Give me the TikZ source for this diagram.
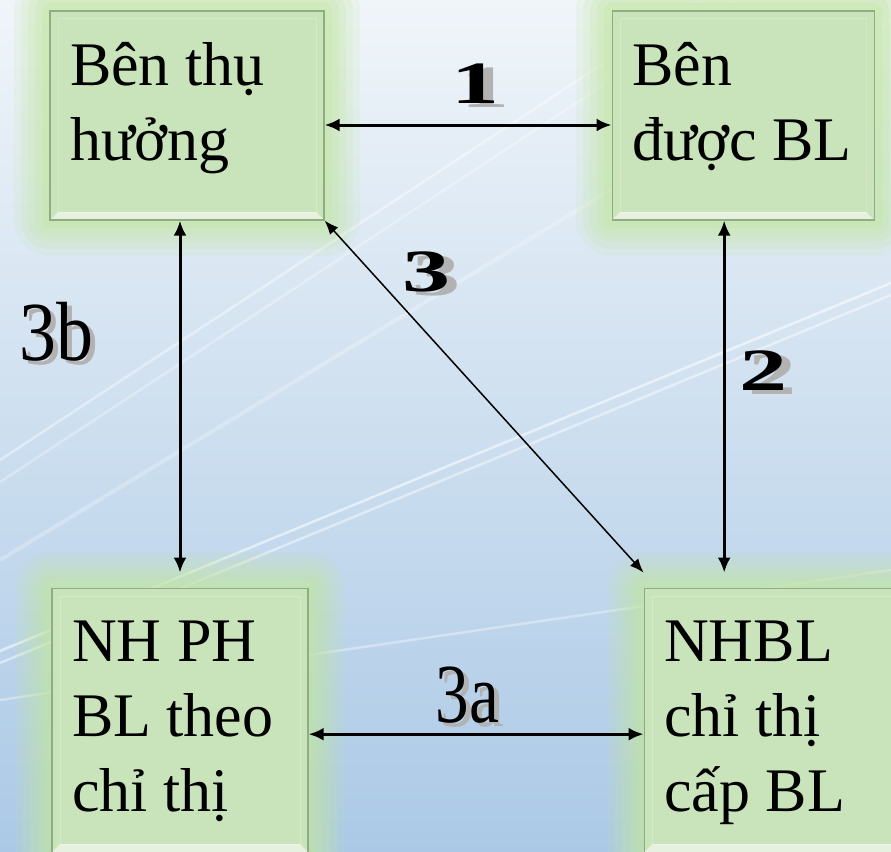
\documentclass[tikz,border=0pt]{standalone}
\usepackage{fontspec}
\setmainfont{Liberation Serif}
\usetikzlibrary{arrows.meta,calc,positioning}

\definecolor{boxgreen}{HTML}{C9E4BA}
\definecolor{boxedge}{HTML}{8FAD80}
\definecolor{glowgreen}{HTML}{C2E6A0}
\definecolor{skytop}{HTML}{F0F5F9}
\definecolor{skybottom}{HTML}{ABC9E6}

\newcommand{\shadowed}[1]{\rlap{\hspace{6pt}\raisebox{-4pt}[0pt][0pt]{\textcolor{black!30}{#1}}}#1}

\begin{document}
\begin{tikzpicture}[x=1pt,y=-1pt,node distance=287pt,>={Latex[length=15pt,width=13pt]}]
  \tikzstyle{party}=[draw=boxedge,line width=1.2pt,fill=boxgreen,align=flush left,
    inner xsep=20pt,font=\fontsize{62}{75}\selectfont,
    preaction={draw=glowgreen,line width=72pt,line join=round,opacity=.14},
    preaction={draw=glowgreen,line width=58pt,line join=round,opacity=.17},
    preaction={draw=glowgreen,line width=44pt,line join=round,opacity=.2},
    preaction={draw=glowgreen,line width=30pt,line join=round,opacity=.24},
    preaction={draw=glowgreen,line width=16pt,line join=round,opacity=.3},
    path picture={
      \fill[white,opacity=.55] (path picture bounding box.south west)
        -- (path picture bounding box.south east)
        -- ([shift={(-8pt,8pt)}]path picture bounding box.south east)
        -- ([shift={(8pt,8pt)}]path picture bounding box.south west) -- cycle;
      \draw[white,opacity=.2,line width=1pt]
        ([shift={(8pt,8pt)}]path picture bounding box.south west)
        rectangle ([shift={(-8pt,-8pt)}]path picture bounding box.north east);}]
  \tikzstyle{toprow}=[minimum height=209pt,text height=42pt,text depth=103pt]
  \tikzstyle{botrow}=[minimum height=264pt,text height=41pt,text depth=159pt]
  \tikzstyle{link}=[<->,line width=3pt]
  \tikzstyle{num}=[inner sep=0pt,font=\bfseries\fontsize{60}{60}\selectfont]
  \tikzstyle{tag}=[inner sep=0pt,font=\fontsize{84}{84}\selectfont]
  \tikzstyle{streak}=[draw=white,line width=2.5pt]

  % sky
  \useasboundingbox (0,0) rectangle (891,851);
  \clip (0,0) rectangle (891,851);
  \shade[top color=skytop,bottom color=skybottom] (0,0) rectangle (891,851);
  \draw[streak,opacity=.55] (0,651) -- (891,283);
  \draw[streak,opacity=.45] (0,663) -- (891,295);
  \draw[streak,opacity=.4] (0,460) -- (700,0);
  \draw[streak,opacity=.3] (0,482) -- (733,0);
  \draw[streak,opacity=.35] (0,700) -- (891,570);
  \draw[streak,opacity=.25,line width=4pt] (0,560) -- (891,20);

  % parties
  \node[party,toprow,text width=234pt] (a) at (187,115.5) {Bên~thụ\\hưởng};
  \node[party,toprow,text width=222pt,right=of a] (b) {Bên\\được~BL};
  \node[party,botrow,text width=216pt,below=367pt of a,xshift=-7pt] (c) {NH~PH\\BL~theo\\chỉ~thị};
  \node[party,botrow,text width=222pt,right=335pt of c] (d) {NHBL\\chỉ~thị\\cấp~BL};

  \path[link]
    ($(a.east)+(0,9.5)$) edge node[num,xshift=7.5pt,yshift=41pt] {\scalebox{1.6}[1]{\shadowed{1}}} ($(b.west)+(0,9.5)$)
    ($(b.south)+(-19,0)$) edge node[num,xshift=39pt,yshift=26pt] {\scalebox{1.6}[1]{\shadowed{2}}} ($(b.south |- d.north)+(-19,-15)$)
    (c.north |- a.south) edge node[tag,xshift=-124pt,yshift=65pt] {\scalebox{.88}[1]{\shadowed{3b}}} ($(c.north)+(0,-15)$)
    ($(c.east)+(0,14)$) edge node[tag,xshift=-8.5pt,yshift=39pt] {\scalebox{.8}[1]{\shadowed{3a}}} ($(d.west)+(0,14)$)
    (a.south east) edge[line width=1.5pt,>={Latex[length=14pt,width=11pt]}]
      node[num,pos=.2,xshift=38pt,yshift=19pt] {\scalebox{1.6}[1]{\shadowed{3}}} ($(d.north west)+(0,-15)$);
\end{tikzpicture}
\end{document}
